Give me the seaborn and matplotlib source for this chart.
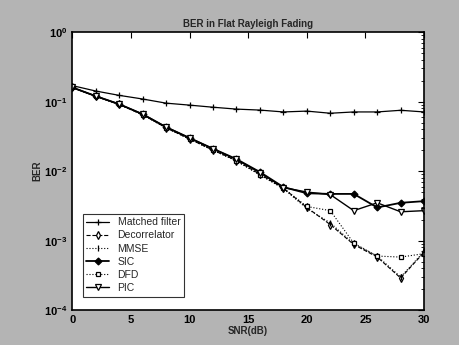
import numpy as np
import pandas as pd
import matplotlib
matplotlib.use("Agg")
import matplotlib.pyplot as plt
import seaborn as sns

snr = [0, 2, 4, 6, 8, 10, 12, 14, 16, 18, 20, 22, 24, 26, 28, 30]
matched = [0.17, 0.142, 0.123, 0.109, 0.095, 0.089, 0.083, 0.078, 0.0755, 0.071, 0.073, 0.068, 0.071, 0.071, 0.075, 0.071]
decorr = [0.16, 0.12, 0.091, 0.065, 0.042, 0.029, 0.020, 0.0142, 0.0090, 0.0057, 0.0030, 0.0017, 0.00088, 0.00058, 0.00029, 0.00068]
mmse = [0.16, 0.12, 0.091, 0.065, 0.042, 0.029, 0.020, 0.0140, 0.0088, 0.0056, 0.0029, 0.0018, 0.00090, 0.00060, 0.00030, 0.00070]
sic = [0.16, 0.12, 0.092, 0.066, 0.043, 0.030, 0.021, 0.0149, 0.0097, 0.0059, 0.0048, 0.0047, 0.0047, 0.0030, 0.0035, 0.0037]
dfd = [0.16, 0.12, 0.091, 0.065, 0.042, 0.029, 0.020, 0.0141, 0.0089, 0.0057, 0.0031, 0.0027, 0.00092, 0.00060, 0.00058, 0.00065]
pic = [0.16, 0.12, 0.092, 0.066, 0.043, 0.030, 0.021, 0.0147, 0.0095, 0.0058, 0.0050, 0.0046, 0.0027, 0.0035, 0.0026, 0.0027]

names = ["Matched filter", "Decorrelator", "MMSE", "SIC", "DFD", "PIC"]
series = [matched, decorr, mmse, sic, dfd, pic]

rows = []
for n, s in zip(names, series):
    for x, y in zip(snr, s):
        rows.append({"SNR": x, "BER": y, "Detector": n})
df = pd.DataFrame(rows)

sns.set_style("white")
plt.rcParams["font.family"] = ["Liberation Sans", "DejaVu Sans"]

fig = plt.figure(figsize=(4.6, 3.45), dpi=100, facecolor="#b4b4b4")
ax = fig.add_axes([0.157, 0.101, 0.765, 0.806])
ax.set_facecolor("white")

styles = {
    "Matched filter": dict(ls="-", marker="+", lw=0.9, ms=4, mfc="black"),
    "Decorrelator": dict(ls="--", marker="d", lw=0.8, ms=4, mfc="white"),
    "MMSE": dict(ls=":", marker="|", lw=0.8, ms=4, mfc="black"),
    "SIC": dict(ls="-", marker="D", lw=1.3, ms=3.5, mfc="black"),
    "DFD": dict(ls=":", marker="s", lw=0.8, ms=3.5, mfc="white"),
    "PIC": dict(ls="-", marker="v", lw=1.0, ms=4.5, mfc="white"),
}

for n in names:
    st = styles[n]
    sub = df[df["Detector"] == n]
    sns.lineplot(data=sub, x="SNR", y="BER", ax=ax, color="black",
                 linestyle=st["ls"], marker=st["marker"], linewidth=st["lw"],
                 markersize=st["ms"], markerfacecolor=st["mfc"],
                 markeredgecolor="black", markeredgewidth=0.9, label=n)

ax.set_yscale("log")
ax.set_xlim(0, 30)
ax.set_ylim(1e-4, 1e0)
ax.set_xticks([0, 5, 10, 15, 20, 25, 30])
ax.set_yticks([1e-4, 1e-3, 1e-2, 1e-1, 1e0])
ax.tick_params(axis="both", which="both", direction="in", top=True, right=True,
               labelsize=8, colors="black")
ax.tick_params(which="major", length=4, width=0.8)
ax.tick_params(which="minor", length=2, width=0.6)
for lab in ax.get_xticklabels() + ax.get_yticklabels():
    lab.set_fontweight("bold")
for sp in ax.spines.values():
    sp.set_color("black")
    sp.set_linewidth(1.2)

ax.set_title("BER in Flat Rayleigh Fading", fontsize=7, fontweight="bold", pad=4)
ax.set_xlabel("SNR(dB)", fontsize=7, fontweight="bold", labelpad=1)
ax.set_ylabel("BER", fontsize=7, fontweight="bold", labelpad=1)

leg = ax.legend(loc="lower left", fontsize=7.5, frameon=True, fancybox=False,
                edgecolor="black", borderpad=0.35, labelspacing=0.3,
                handlelength=2.2, bbox_to_anchor=(0.015, 0.03))
leg.get_frame().set_linewidth(0.8)

fig.savefig("out.png", dpi=100, facecolor=fig.get_facecolor())
